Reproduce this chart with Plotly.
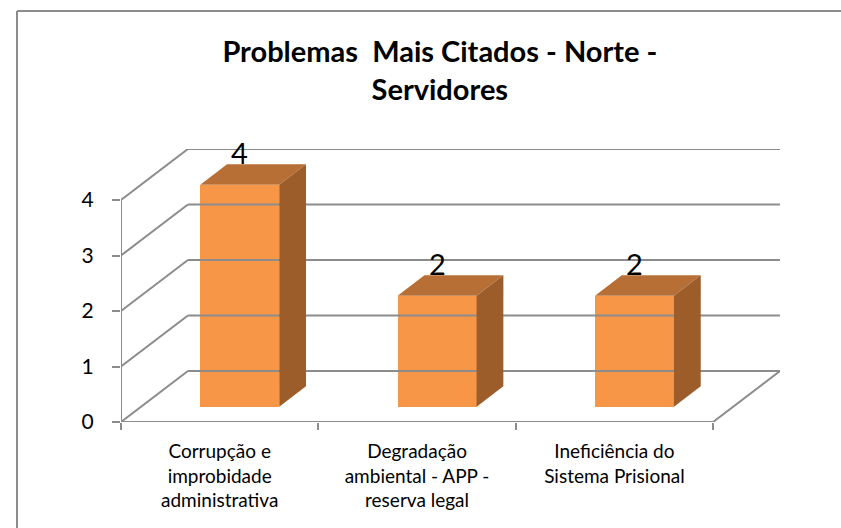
import plotly.graph_objects as go

# Chart data
categories = [
    "Corrupção e<br>improbidade<br>administrativa",
    "Degradação<br>ambiental - APP -<br>reserva legal",
    "Ineficiência do<br>Sistema Prisional",
]
values = [4, 2, 2]
y_ticks = [0, 1, 2, 3, 4]

title_text = "Problemas  Mais Citados - Norte -<br>Servidores"

# Pseudo-3D geometry (in data units)
DX = 0.339          # horizontal depth offset of the back wall (category units)
DY = 0.919          # vertical depth offset of the back wall (value units)
BAR_W = 0.40        # bar width (category units)
D0, D1 = 0.30, 0.70 # bar front/back position as a fraction of the depth

FRONT = "#F79646"
TOP = "#B86F35"
SIDE = "#9C5D2B"
GRID = "#8C8C8C"
FONT = "Lato"

n = len(categories)
x_left, x_right = -0.5, n - 0.5
ymax = max(y_ticks)

fig = go.Figure()


def wall_line(xv, yv):
    fig.add_trace(go.Scatter(
        x=xv, y=yv, mode="lines", line=dict(color=GRID, width=2),
        cliponaxis=False, hoverinfo="skip", showlegend=False,
    ))


# Back wall gridlines and side-wall diagonals
for v in y_ticks:
    wall_line([x_left + DX, x_right + DX], [v + DY, v + DY])
    wall_line([x_left, x_left + DX], [v, v + DY])
# Floor: front edge and right edge
wall_line([x_left, x_right, x_right + DX], [0, 0, DY])
# Front value axis line
wall_line([x_left, x_left], [0, ymax])

# Bars: front face drawn as a real bar, top and side faces as polygons
xs = [i + D0 * DX for i in range(n)]
fig.add_trace(go.Bar(
    x=xs, y=values, base=[D0 * DY] * n, width=BAR_W,
    marker=dict(color=FRONT, line=dict(width=0)),
    hoverinfo="skip", showlegend=False,
))
dd = D1 - D0
for xc, v in zip(xs, values):
    xl, xr = xc - BAR_W / 2, xc + BAR_W / 2
    yb, yt = D0 * DY, D0 * DY + v
    # top face
    fig.add_trace(go.Scatter(
        x=[xl, xr, xr + dd * DX, xl + dd * DX, xl],
        y=[yt, yt, yt + dd * DY, yt + dd * DY, yt],
        fill="toself", fillcolor=TOP, mode="lines", line=dict(width=0, color=TOP),
        hoverinfo="skip", showlegend=False,
    ))
    # side face
    fig.add_trace(go.Scatter(
        x=[xr, xr + dd * DX, xr + dd * DX, xr, xr],
        y=[yb, yb + dd * DY, yt + dd * DY, yt, yb],
        fill="toself", fillcolor=SIDE, mode="lines", line=dict(width=0, color=SIDE),
        hoverinfo="skip", showlegend=False,
    ))
    # value label
    fig.add_annotation(x=xc, y=yt + dd * DY, text=str(v), showarrow=False,
                       yanchor="bottom", yshift=-8,
                       font=dict(family=FONT, size=29, color="#000000"))

# Outer chart frame (top and left edges visible)
PLOT_W, PLOT_H = 659, 273
frame_x = (17 - 121) / PLOT_W
frame_y = (528 - 106 - 11) / PLOT_H
fig.add_shape(type="line", xref="paper", yref="paper",
              x0=frame_x, y0=frame_y, x1=1.2, y1=frame_y,
              line=dict(color=GRID, width=2))
fig.add_shape(type="line", xref="paper", yref="paper",
              x0=frame_x, y0=-1, x1=frame_x, y1=frame_y,
              line=dict(color=GRID, width=2))

fig.update_layout(
    width=841, height=528, autosize=False,
    margin=dict(l=121, r=61, t=149, b=106),
    paper_bgcolor="white", plot_bgcolor="white",
    title=dict(text=title_text, x=0.523, xanchor="center", y=1 - 62 / 528, yanchor="middle",
               font=dict(family=FONT, size=29, color="#000000", weight="bold")),
    xaxis=dict(
        range=[x_left, x_right + DX], tickvals=list(range(n)), ticktext=categories,
        showgrid=False, zeroline=False, showline=False, ticks="",
        ticklabelstandoff=16,
        tickfont=dict(family=FONT, size=19, color="#000000"),
        minor=dict(tickvals=[x_left + k for k in range(n + 1)], ticks="outside",
                   ticklen=7, tickcolor=GRID, tickwidth=2, showgrid=False),
        fixedrange=True,
    ),
    yaxis=dict(
        range=[0, ymax + DY], tickvals=y_ticks, showgrid=False, zeroline=False,
        showline=False, ticks="outside", ticklen=8, tickcolor=GRID, tickwidth=2,
        ticklabelstandoff=14,
        tickfont=dict(family=FONT, size=21, color="#000000"),
        fixedrange=True,
    ),
    bargap=0,
)

fig.write_html("out.html")
